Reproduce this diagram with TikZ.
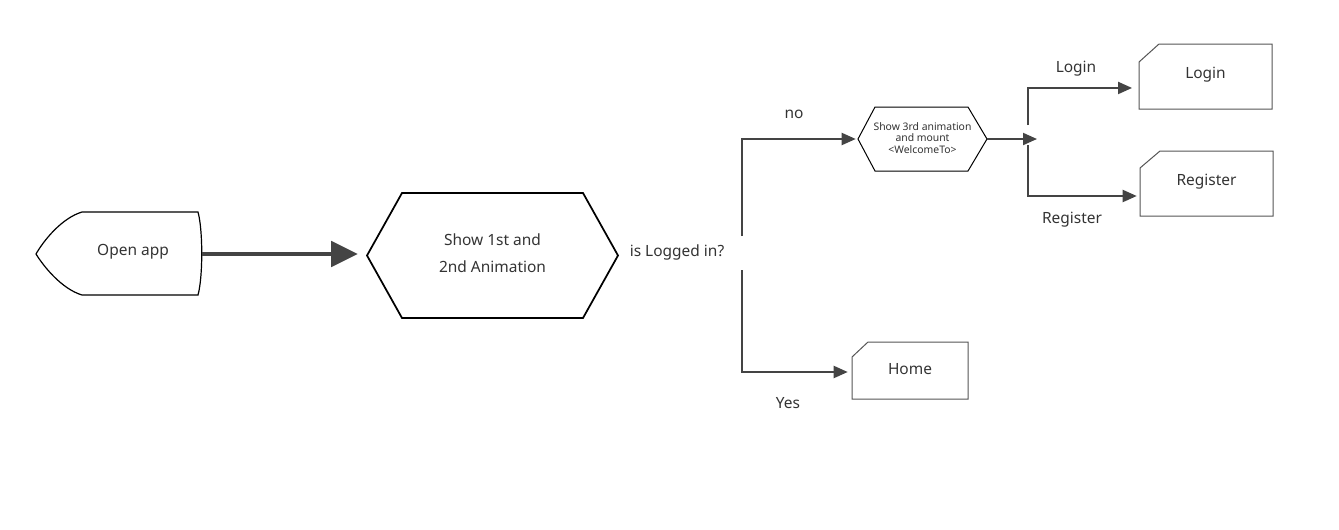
\documentclass[tikz,border=0pt]{standalone}
\usepackage{fontspec}
\setmainfont{Noto Sans}
\usetikzlibrary{arrows.meta,calc}
\definecolor{ink}{HTML}{444444}
\definecolor{txtc}{HTML}{333333}
\definecolor{boxc}{HTML}{555555}
\begin{document}
\begin{tikzpicture}[x=0.75pt,y=-0.75pt,
  area/.style={inner sep=0pt, text=txtc, align=center, font=\fontsize{11.6}{20}\selectfont},
  lbl/.style={text=txtc, font=\fontsize{11.6}{13}\selectfont, inner sep=0pt},
  shapeline/.style={draw=black, line width=0.9pt, line join=miter},
  boxline/.style={draw=boxc, line width=0.75pt},
  flow/.style={draw=ink, line width=1.5pt, -{Triangle[length=10.5pt,width=9pt]}},
  bigflow/.style={draw=ink, line width=3pt, -{Triangle[length=20pt,width=19pt]}},
]
\useasboundingbox (0,0) rectangle (1339,529);

% ---- shapes (outlines) ----
\draw[shapeline] (82,212) -- (198,212) .. controls (203,230) and (203,277) .. (198,295)
  -- (82,295) .. controls (62,289) and (44,267) .. (36,254)
  .. controls (44,240) and (62,218) .. (82,212) -- cycle;
\draw[shapeline, line width=1.3pt] (367,255.5) -- (402,193) -- (583,193) -- (618,255.5)
  -- (583,318) -- (402,318) -- cycle;
\draw[shapeline, line width=0.75pt] (858,139) -- (875,107) -- (968,107) -- (987,139)
  -- (968,171) -- (875,171) -- cycle;
\draw[boxline] (1139,62) -- (1159,44) -- (1272,44) -- (1272,109) -- (1139,109) -- cycle;
\draw[boxline] (1140,168) -- (1160,151) -- (1273,151) -- (1273,216) -- (1140,216) -- cycle;
\draw[boxline] (852,357) -- (868,342) -- (968,342) -- (968,399) -- (852,399) -- cycle;

% ---- nodes ----
\node[area, minimum width=124.5pt, minimum height=62.25pt] (open) at (119,254) {};
\node[area] (opentxt) at (133,251.5) {Open app};
\node[area, minimum width=188.25pt, minimum height=93.75pt] (hex1) at (492.5,253.5)
  {Show 1st and\\2nd Animation};
\node[lbl] (q) at (677,252.5) {is Logged in?};
\node[area, minimum width=96.75pt, minimum height=48pt,
  font=\fontsize{7.8}{8.6}\selectfont] (hex2) at (922.5,138)
  {Show 3rd animation\\and mount\\<WelcomeTo>};
\node[area, minimum width=99.75pt, minimum height=48.75pt] (login) at (1205.5,74.5) {Login};
\node[area, minimum width=99.75pt, minimum height=48.75pt] (register) at (1206.5,182) {Register};
\node[area, minimum width=87pt, minimum height=42.75pt] (home) at (910,369) {Home};

% ---- labels ----
\node[lbl] (lno) at (794,114.5) {no};
\node[lbl] (lyes) at (788,403.5) {Yes};
\node[lbl] (llogin) at (1076,68.5) {Login};
\node[lbl] (lreg) at (1072,219.5) {Register};

% ---- junction points ----
\coordinate (splitup) at (742,236);
\coordinate (splitdn) at (742,270);
\coordinate (junc) at (1037,139);
\coordinate (jup) at (1028,125);
\coordinate (jdn) at (1028,145);

% ---- connectors ----
\draw[bigflow, shorten >=6.75pt] (open.east) -- (open.east -| hex1.west);
\draw[flow, shorten >=1.5pt] (splitup) |- ([yshift=-0.75pt]hex2.west);
\draw[flow, shorten >=3pt] (splitdn) |- ([yshift=-2.25pt]home.west);
\draw[flow] (hex2.east |- junc) -- (junc);
\draw[flow, shorten >=5pt] (jup) |- ([yshift=-10.1pt]login.west);
\draw[flow, shorten >=2.25pt] (jdn) |- ([yshift=-10.5pt]register.west);
\end{tikzpicture}
\end{document}
